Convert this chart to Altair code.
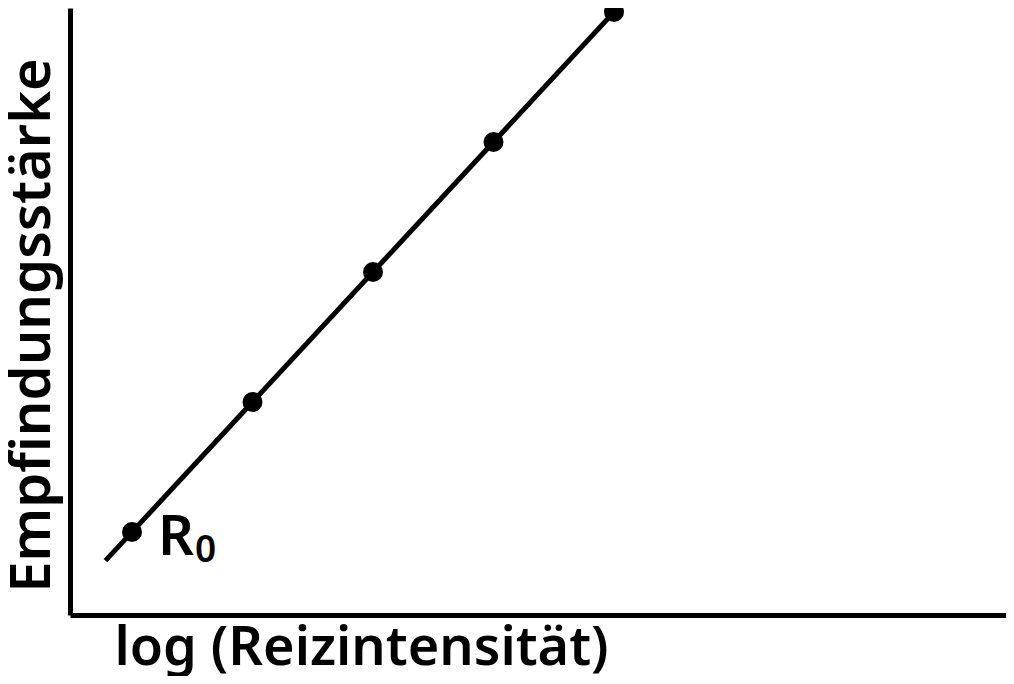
import altair as alt
import pandas as pd

# data (abstract units)
log_reiz = [1, 2, 3, 4, 5]
empfindung = [1, 2, 3, 4, 5]
line_x = [0.78, 5.3]
line_y = [0.78, 5.3]
label_main = ["R"]
label_sub = ["0"]

pts = pd.DataFrame({"x": log_reiz, "y": empfindung})
ln = pd.DataFrame({"x": line_x, "y": line_y})
lab = pd.DataFrame({"x": [log_reiz[0]], "y": [empfindung[0]], "t": label_main, "s": label_sub})

FONT = "Noto Sans"
xs = alt.Scale(domain=[0.4855, 8.253], nice=False, zero=False)
ys = alt.Scale(domain=[0.3615, 5.0308], nice=False, zero=False)

xaxis = alt.Axis(title="log (Reizintensität)", domain=True, domainColor="black", domainWidth=5,
                 ticks=False, labels=False, grid=False,
                 titleFont=FONT, titleFontSize=54, titleFontWeight=600, titleColor="black",
                 titleX=291, titleY=49, titleAlign="center", titleBaseline="alphabetic")
yaxis = alt.Axis(title="Empfindungsstärke", domain=True, domainColor="black", domainWidth=5,
                 ticks=False, labels=False, grid=False,
                 titleFont=FONT, titleFontSize=56, titleFontWeight=600, titleColor="black",
                 titleAngle=270, titleX=-21, titleY=317, titleAlign="center", titleBaseline="alphabetic")

line = alt.Chart(ln).mark_line(color="black", strokeWidth=5, clip=True).encode(
    x=alt.X("x:Q", scale=xs, axis=xaxis),
    y=alt.Y("y:Q", scale=ys, axis=yaxis),
)
dots = alt.Chart(pts).mark_circle(color="black", opacity=1, size=400, clip=True).encode(
    x=alt.X("x:Q", scale=xs), y=alt.Y("y:Q", scale=ys)
)
r_text = alt.Chart(lab).mark_text(align="left", baseline="alphabetic", dx=26, dy=23,
                                  font=FONT, fontSize=56, fontWeight=600, color="black").encode(
    x=alt.X("x:Q", scale=xs), y=alt.Y("y:Q", scale=ys), text="t:N"
)
sub_text = alt.Chart(lab).mark_text(align="left", baseline="alphabetic", dx=63, dy=30,
                                    font=FONT, fontSize=37, fontWeight=600, color="black").encode(
    x=alt.X("x:Q", scale=xs), y=alt.Y("y:Q", scale=ys), text="s:N"
)

chart = alt.layer(line, dots, r_text, sub_text).properties(
    width=936, height=607,
    padding={"left": 62, "top": 0, "right": 0, "bottom": 61},
    autosize=alt.AutoSizeParams(type="none"),
    background="white",
).configure_view(stroke=None)

chart.save("out.html", embed_options={"renderer": "svg", "actions": False})
